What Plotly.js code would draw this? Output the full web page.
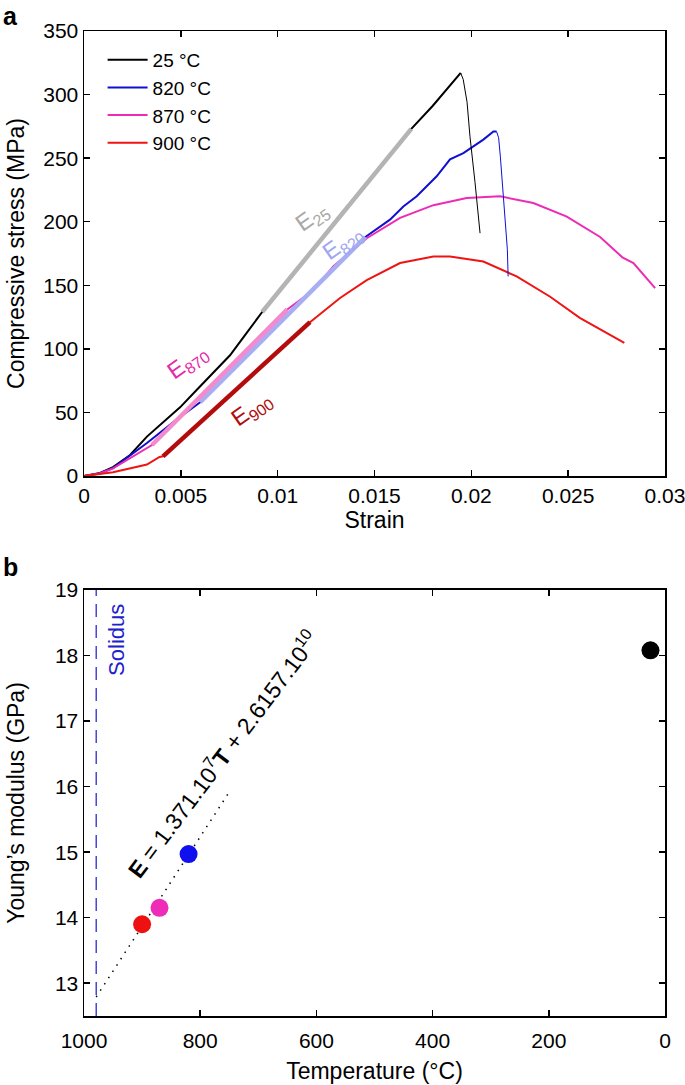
<!DOCTYPE html>
<html>
<head>
<meta charset="utf-8">
<script src="https://cdn.plot.ly/plotly-3.0.1.min.js"></script>
<style>html,body{margin:0;padding:0;background:#fff;}#chart{width:685px;height:1085px;}</style>
</head>
<body>
<div id="chart"></div>
<script>
// ---------- Panel a: stress-strain curves ----------
var legendNames = ['25 \u00b0C', '820 \u00b0C', '870 \u00b0C', '900 \u00b0C'];
var curveColors = ['#000000', '#1010d0', '#ec2cb4', '#ee1515'];

var strain25 = [0, 0.00083, 0.0015, 0.00238, 0.00325, 0.00408, 0.00496, 0.00584, 0.00666, 0.00754, 0.00842, 0.0092, 0.0130, 0.0169, 0.0180, 0.0190, 0.01945];
var stress25 = [0, 2.4, 7, 16.5, 31, 42.5, 54, 68, 81, 95, 113, 129, 201, 273, 291, 309, 317];
var strain25Fail = [0.01945, 0.01958, 0.01978, 0.01993, 0.02019, 0.02045];
var stress25Fail = [317, 312, 294, 267, 231, 191];

var strain820 = [0, 0.0008, 0.0015, 0.00325, 0.00496, 0.0060, 0.0100, 0.01453, 0.0158, 0.01649, 0.01718, 0.01821, 0.0189, 0.01959, 0.02062, 0.02114, 0.0213];
var stress820 = [0, 2, 6.3, 26, 46.5, 58, 119, 188, 201.6, 212, 220, 235.7, 249, 254, 264.6, 271, 271];
var strain820Fail = [0.0213, 0.02141, 0.0215, 0.02167, 0.02186, 0.0219];
var stress820Fail = [271, 266, 251, 215, 178, 157];

var strain870 = [0, 0.0008, 0.0015, 0.00351, 0.0070, 0.0105, 0.01183, 0.01288, 0.0146, 0.01632, 0.01804, 0.01976, 0.02148, 0.0232, 0.02493, 0.02665, 0.0278, 0.02837, 0.02949];
var stress870 = [0, 2, 6, 24.4, 78, 131, 146, 165, 187, 203, 213, 218.7, 220, 214.7, 204, 188, 172, 167.5, 147.8];

var strain900 = [0, 0.0015, 0.00325, 0.0039, 0.00408, 0.0079, 0.01167, 0.01322, 0.0146, 0.01632, 0.01804, 0.0189, 0.02062, 0.02234, 0.02407, 0.0256, 0.0279];
var stress900 = [0, 3, 9, 15, 15.5, 68, 121, 140, 154, 167.5, 172.7, 172.7, 168.7, 157, 141, 124.4, 104.7];

// Linear fits for moduli
var fitLabels = ['E<sub>25</sub>', 'E<sub>820</sub>', 'E<sub>870</sub>', 'E<sub>900</sub>'];
var fitColors = ['#b4b4b4', '#a8aef4', '#f48acc', '#b40c0c'];
var fit25Strain = [0.0092, 0.0169];   var fit25Stress = [129, 273];
var fit820Strain = [0.0060, 0.01453]; var fit820Stress = [58, 188];
var fit870Strain = [0.00351, 0.0105]; var fit870Stress = [24.4, 131];
var fit900Strain = [0.00408, 0.01167]; var fit900Stress = [15.5, 121];

// ---------- Panel b: Young's modulus vs temperature ----------
var tempC = [25, 820, 870, 900];
var modulusGPa = [18.08, 14.97, 14.15, 13.9];
var pointColors = ['#000000', '#1010ee', '#ee2cb8', '#ee1111'];
var fitTemp = [979, 752];
var fitModulus = [12.79, 15.89];
var solidusTemp = 979;

var FONT = 'Liberation Sans, Arial, Helvetica, sans-serif';

var traces = [];
var mainX = [strain25, strain820, strain870, strain900];
var mainY = [stress25, stress820, stress870, stress900];
for (var i = 0; i < 4; i++) {
  traces.push({x: mainX[i], y: mainY[i], type: 'scatter', mode: 'lines', name: legendNames[i],
    line: {color: curveColors[i], width: 2}, xaxis: 'x', yaxis: 'y'});
}
traces.push({x: strain25Fail, y: stress25Fail, type: 'scatter', mode: 'lines', showlegend: false,
  line: {color: curveColors[0], width: 1}, xaxis: 'x', yaxis: 'y'});
traces.push({x: strain820Fail, y: stress820Fail, type: 'scatter', mode: 'lines', showlegend: false,
  line: {color: curveColors[1], width: 1}, xaxis: 'x', yaxis: 'y'});

var fitX = [fit25Strain, fit820Strain, fit870Strain, fit900Strain];
var fitY = [fit25Stress, fit820Stress, fit870Stress, fit900Stress];
for (var j = 0; j < 4; j++) {
  traces.push({x: fitX[j], y: fitY[j], type: 'scatter', mode: 'lines', showlegend: false,
    line: {color: fitColors[j], width: 4.5}, xaxis: 'x', yaxis: 'y'});
}

// Panel b traces
traces.push({x: [solidusTemp, solidusTemp], y: [12.5, 19], type: 'scatter', mode: 'lines', showlegend: false,
  line: {color: '#2a2ad0', width: 1.3, dash: '13px,8px'}, xaxis: 'x2', yaxis: 'y2'});
traces.push({x: fitTemp, y: fitModulus, type: 'scatter', mode: 'lines', showlegend: false,
  line: {color: '#000000', width: 1.5, dash: '1.5px,6px'}, xaxis: 'x2', yaxis: 'y2'});
traces.push({x: tempC, y: modulusGPa, type: 'scatter', mode: 'markers', showlegend: false,
  marker: {color: pointColors, size: 18, line: {width: 0}}, xaxis: 'x2', yaxis: 'y2'});

var axisCommon = {
  showline: true, linecolor: '#000', linewidth: 1.5, mirror: 'ticks',
  ticks: 'inside', ticklen: 6, tickwidth: 1.5, tickcolor: '#000',
  showgrid: false, zeroline: false, ticklabeloverflow: 'allow',
  tickfont: {family: FONT, size: 21, color: '#000'}
};
function ax(extra) { var o = JSON.parse(JSON.stringify(axisCommon)); for (var k in extra) o[k] = extra[k]; return o; }

var TITLE_FONT = {family: FONT, size: 23, color: '#000'};

var annotations = [];
var fitLabelPos = [[0.01178, 203], [0.01337, 183], [0.00537, 89], [0.00868, 52]];
var fitLabelColors = ['#a8a8a8', '#a0a6f0', '#e62aa8', '#b00c0c'];
for (var m = 0; m < 4; m++) {
  annotations.push({x: fitLabelPos[m][0], y: fitLabelPos[m][1], xref: 'x', yref: 'y', text: fitLabels[m],
    showarrow: false, textangle: -35, font: {family: FONT, size: 23, color: fitLabelColors[m]}});
}
annotations.push({x: 943, y: 18.24, xref: 'x2', yref: 'y2', text: 'Solidus', showarrow: false, textangle: -90,
  font: {family: FONT, size: 22, color: '#2020cc'}});
annotations.push({x: 762, y: 16.5, xref: 'x2', yref: 'y2',
  text: '<b>E</b> = 1.371.10<sup>7</sup><b>T</b> + 2.6157.10<sup>10</sup>', showarrow: false, textangle: -53,
  font: {family: FONT, size: 23, color: '#000'}});
annotations.push({x: -0.143, y: 1.0315, xref: 'paper', yref: 'paper', xanchor: 'left', yanchor: 'top',
  text: '<b>a</b>', showarrow: false, font: {family: FONT, size: 25, color: '#000'}});
annotations.push({x: -0.143, y: 0.4558, xref: 'paper', yref: 'paper', xanchor: 'left', yanchor: 'middle',
  text: '<b>b</b>', showarrow: false, font: {family: FONT, size: 25, color: '#000'}});

var layout = {
  width: 685, height: 1085,
  margin: {l: 84, r: 20, t: 31, b: 69},
  paper_bgcolor: '#fff', plot_bgcolor: '#fff',
  font: {family: FONT, size: 21, color: '#000'},
  showlegend: true,
  legend: {x: 0.032, y: 0.99, xanchor: 'left', yanchor: 'top', bgcolor: 'rgba(0,0,0,0)',
    font: {family: FONT, size: 19, color: '#000'}, tracegroupgap: 0, itemwidth: 40},
  xaxis: ax({domain: [0, 1], anchor: 'y', range: [0, 0.03], tickvals: [0, 0.005, 0.01, 0.015, 0.02, 0.025, 0.03],
    ticktext: ['0', '0.005', '0.01', '0.015', '0.02', '0.025', '0.03'],
    title: {text: 'Strain', font: TITLE_FONT, standoff: 4}}),
  yaxis: ax({domain: [0.5482, 1], anchor: 'x', range: [0, 350], dtick: 50,
    title: {text: 'Compressive stress (MPa)', font: TITLE_FONT, standoff: 12}}),
  xaxis2: ax({domain: [0, 1], anchor: 'y2', range: [1000, 0], dtick: 200, ticklabelstandoff: 5,
    title: {text: 'Temperature (\u00b0C)', font: TITLE_FONT, standoff: 12}}),
  yaxis2: ax({domain: [0, 0.4325], anchor: 'x2', range: [12.5, 19], dtick: 1,
    title: {text: 'Young\u2019s modulus (GPa)', font: TITLE_FONT, standoff: 24}}),
  annotations: annotations
};

Plotly.newPlot('chart', traces, layout, {displayModeBar: false, staticPlot: true});
</script>
</body>
</html>
